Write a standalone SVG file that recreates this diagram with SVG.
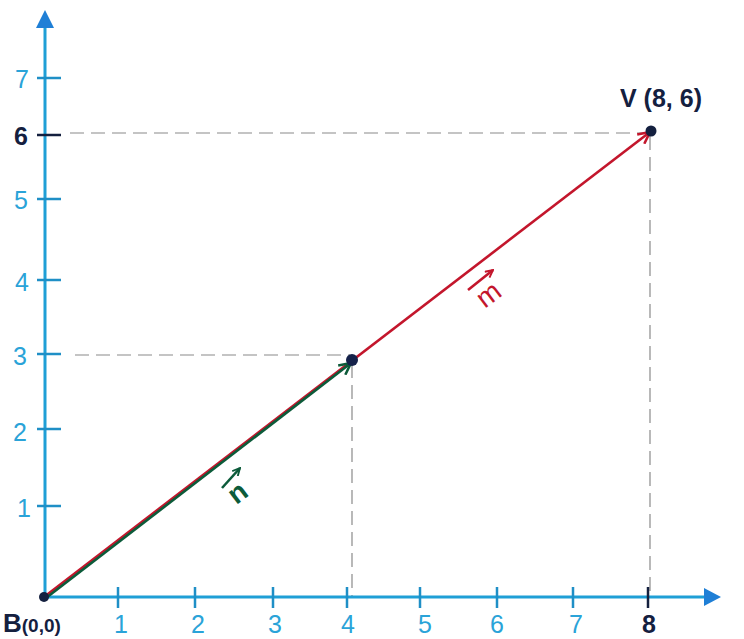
<svg xmlns="http://www.w3.org/2000/svg" width="744" height="639" viewBox="0 0 744 639">
<style>
.axis{stroke:#1f9fd6;stroke-width:3;fill:none}
.tick{stroke:#1f8fc6;stroke-width:2.5}
.dash{stroke:#8a8a8a;stroke-width:1.2;stroke-dasharray:14 7;fill:none}
.lbl{font-family:"Liberation Sans",Arial,sans-serif;font-size:25px;fill:#2aa3d8;text-anchor:middle}
.dark{fill:#14203f;font-weight:bold}
.vr{stroke:#c3162c;stroke-width:2.6;fill:none}
.vg{stroke:#0c5b3a;stroke-width:2.6;fill:none}
</style>
<defs>
<marker id="ar" viewBox="0 0 12 12" refX="11" refY="6" markerWidth="14" markerHeight="14" markerUnits="userSpaceOnUse" orient="auto"><path d="M1,1 L11,6 L1,11" fill="none" stroke="#c3162c" stroke-width="2.2"/></marker>
<marker id="ag" viewBox="0 0 12 12" refX="11" refY="6" markerWidth="14" markerHeight="14" markerUnits="userSpaceOnUse" orient="auto"><path d="M1,1 L11,6 L1,11" fill="none" stroke="#0c5b3a" stroke-width="2.2"/></marker>
<marker id="arS" viewBox="0 0 12 12" refX="11" refY="6" markerWidth="9" markerHeight="9" markerUnits="userSpaceOnUse" orient="auto"><path d="M1,1 L11,6 L1,11" fill="none" stroke="#c3162c" stroke-width="2.5"/></marker>
<marker id="agS" viewBox="0 0 12 12" refX="11" refY="6" markerWidth="9" markerHeight="9" markerUnits="userSpaceOnUse" orient="auto"><path d="M1,1 L11,6 L1,11" fill="none" stroke="#0c5b3a" stroke-width="2.5"/></marker>
</defs>
<rect width="744" height="639" fill="#ffffff"/>

<g id="guides">
<path class="dash" d="M70,133 H649"/>
<path class="dash" d="M75,355 H350"/>
<path class="dash" d="M352,364 V597"/>
<path class="dash" d="M650,136 V597"/>
</g>

<g id="axes">
<path class="axis" d="M45,597 V26"/>
<path d="M45,10 L54,28 L36,28 Z" fill="#1f7fd6"/>
<path class="axis" d="M44,597 H706"/>
<path d="M721,597 L704,588 L704,606 Z" fill="#1f7fd6"/>
<g class="tick">
<path d="M37,78 H61"/><path d="M37,135 H61" stroke="#14203f"/><path d="M37,199 H61"/><path d="M37,280 H61"/>
<path d="M37,354 H61"/><path d="M37,429 H61"/><path d="M37,506 H61"/>
<path d="M118,587 V608"/><path d="M195,587 V608"/><path d="M273,587 V608"/><path d="M347,587 V608"/>
<path d="M420,587 V608"/><path d="M497,587 V608"/><path d="M573,587 V608"/><path d="M648,587 V608" stroke="#14203f"/>
</g>
</g>

<g id="ylabels">
<text class="lbl" x="22" y="88">7</text>
<text class="lbl dark" x="21" y="145">6</text>
<text class="lbl" x="21" y="209">5</text>
<text class="lbl" x="22" y="291">4</text>
<text class="lbl" x="20" y="365">3</text>
<text class="lbl" x="20" y="441">2</text>
<text class="lbl" x="24" y="517">1</text>
</g>
<g id="xlabels">
<text class="lbl" x="121" y="633">1</text>
<text class="lbl" x="198" y="633">2</text>
<text class="lbl" x="275" y="633">3</text>
<text class="lbl" x="348" y="633">4</text>
<text class="lbl" x="425" y="633">5</text>
<text class="lbl" x="497" y="633">6</text>
<text class="lbl" x="576" y="633">7</text>
<text class="lbl dark" x="649" y="633">8</text>
</g>

<g id="connectors">
<path class="vr" d="M44,597 L650,132" marker-end="url(#ar)"/>
<path class="vg" d="M46,598 L351,363" marker-end="url(#ag)"/>
</g>

<g id="node-B">
<circle cx="44" cy="597" r="5" fill="#14203f"/>
<text x="3" y="632" font-family="'Liberation Sans',Arial,sans-serif" font-weight="bold" fill="#14203f"><tspan font-size="26">B</tspan><tspan font-size="19">(0,0)</tspan></text>
</g>
<g id="node-P">
<circle cx="352" cy="360" r="6" fill="#15224a"/>
</g>
<g id="node-V">
<circle cx="651" cy="131" r="5.5" fill="#14203f"/>
<text x="620" y="107" font-family="'Liberation Sans',Arial,sans-serif" font-size="25" font-weight="bold" fill="#14203f">V (8, 6)</text>
</g>

<g id="label-n">
<text x="0" y="0" transform="translate(243,500) rotate(-37)" font-family="'Liberation Sans',Arial,sans-serif" font-size="28" font-weight="bold" fill="#0c5b3a" text-anchor="middle">n</text>
<path d="M222,488 L240,468" class="vg" stroke-width="3" marker-end="url(#agS)"/>
</g>
<g id="label-m">
<text x="0" y="0" transform="translate(494,302) rotate(-37)" font-family="'Liberation Sans',Arial,sans-serif" font-size="28" fill="#c3162c" text-anchor="middle">m</text>
<path d="M468,290 L493,270" class="vr" stroke-width="2.8" marker-end="url(#arS)"/>
</g>
</svg>
